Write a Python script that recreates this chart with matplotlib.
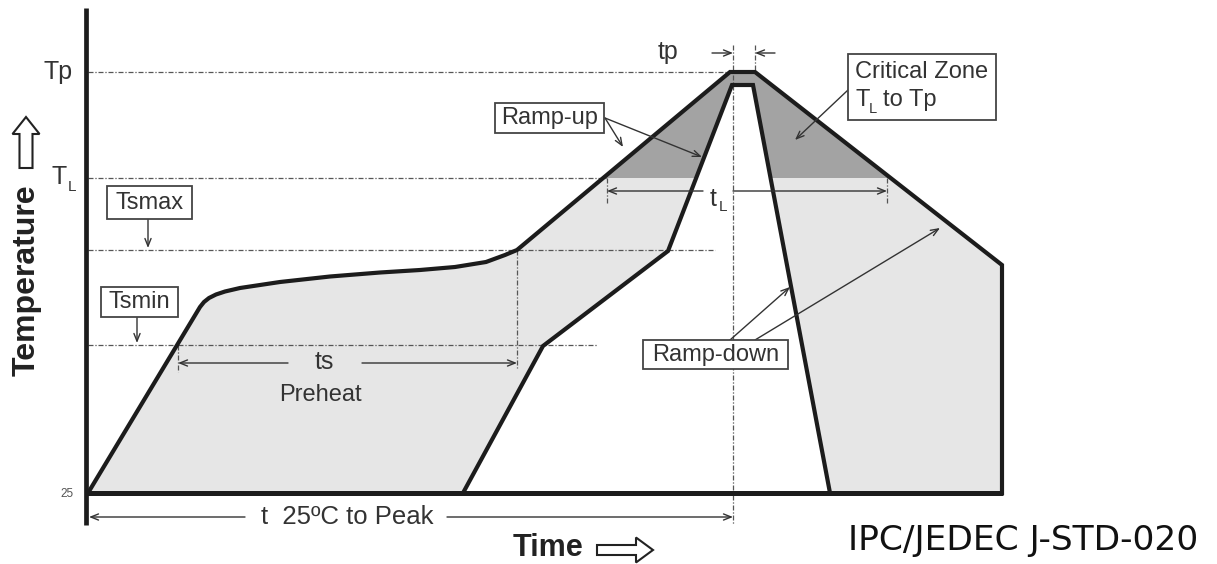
import matplotlib
matplotlib.use('Agg')
import matplotlib.pyplot as plt
from matplotlib.patches import Polygon, Rectangle, FancyArrow

# ---- data (time / temperature in the schematic's own units, baseline = 25 °C) ----
T_P = 421
T_L = 315
TS_MAX = 243
TS_MIN = 148
outer_time = [2, 114, 118, 123, 130, 139, 154, 174, 194, 244, 294, 334, 369, 400, 419, 431,
              644, 669, 916, 916]
outer_temp = [0, 186, 191, 195, 198.5, 201.5, 205, 208, 211, 216.5, 220.5, 223, 226, 231, 238, 243,
              421, 421, 228, 0]
inner_time = [377, 457, 582, 646, 667, 744]
inner_temp = [0, 147, 242, 408, 408, 0]
t_s = [92, 431]
t_l = [521, 801]
t_p = [647, 669]
time_end = 916

FONT = 'Liberation Sans'
TXT = '#333333'
LINE = '#1c1c1c'
DASH = '#555555'

fig = plt.figure(figsize=(12.17, 5.64), dpi=100)
ax = fig.add_axes([0, 0, 1, 1])
ax.set_xlim(-86, 1131)
ax.set_ylim(-71, 493)
ax.axis('off')


def px(x, y):
    return (x - 86, 493 - y)


# ---- fills ----
poly_pts = list(zip(outer_time, outer_temp)) + list(zip(inner_time[::-1], inner_temp[::-1]))
ax.add_patch(Polygon(poly_pts, closed=True, fc='#e6e6e6', ec='none', zorder=1))
dark = Polygon(poly_pts, closed=True, fc='#a3a3a3', ec='none', zorder=2)
ax.add_patch(dark)
clip = Rectangle((-100, T_L), 1300, 300, transform=ax.transData)
dark.set_clip_path(clip)

# ---- dashed reference lines ----
dstyle = dict(color=DASH, lw=0.9, ls=(0, (4, 1.5, 1, 1.5)), zorder=3)
ax.plot([2, t_p[0]], [T_P, T_P], **dstyle)
ax.plot([2, t_l[0]], [T_L, T_L], **dstyle)
ax.plot([2, 629], [TS_MAX, TS_MAX], **dstyle)
ax.plot([2, 512], [TS_MIN, TS_MIN], **dstyle)
ax.plot([t_s[1], t_s[1]], [TS_MAX, 125], **dstyle)
ax.plot([t_s[0], t_s[0]], [TS_MIN, 121], **dstyle)
ax.plot([t_p[0], t_p[0]], [448, -32], **dstyle)
ax.plot([t_p[1], t_p[1]], [448, T_P], **dstyle)
ax.plot([t_l[0], t_l[0]], [T_L, 290], **dstyle)
ax.plot([t_l[1], t_l[1]], [T_L, 290], **dstyle)

# ---- profile lines & axes ----
ax.plot(outer_time, outer_temp, color=LINE, lw=3.0, solid_joinstyle='miter', zorder=5)
ax.plot(inner_time, inner_temp, color=LINE, lw=3.0, solid_joinstyle='miter', zorder=5)
ax.plot([0, time_end + 1], [0, 0], color=LINE, lw=3.6, solid_capstyle='butt', zorder=6)
ax.plot([0, 0], [-32, 485], color=LINE, lw=3.4, solid_capstyle='butt', zorder=6)


def arrow(start, end, lw=1.0):
    ax.annotate('', xy=end, xytext=start,
                arrowprops=dict(arrowstyle='->,head_length=0.55,head_width=0.22',
                                lw=lw, color='#333333', shrinkA=0, shrinkB=0),
                zorder=7)


# span arrows
arrow((202, 130), (t_s[0], 130))
arrow((276, 130), (t_s[1], 130))
arrow((617, 302), (t_l[0], 302))
arrow((647, 302), (t_l[1], 302))
arrow((626, 440), (t_p[0], 440))
arrow((689, 440), (t_p[1], 440))
arrow((159, -24), (3, -24))
arrow((361, -24), (t_p[0], -24))

# ---- labels ----
def txt(x, y, s, size, **kw):
    kw.setdefault('ha', 'center')
    kw.setdefault('va', 'center')
    kw.setdefault('color', TXT)
    ax.text(x, y, s, fontsize=size, family=FONT, zorder=8, **kw)


txt(-28, 421, 'Tp', 18)
txt(-26.5, 316, 'T', 18)
txt(-13.5, 306, 'L', 11)
txt(-12, -1, '25', 8.5, ha='right', color='#555555')
txt(238, 131, 'ts', 18)
txt(234, 98, 'Preheat', 17)
txt(582, 441, 'tp', 18)
txt(627, 294, 't', 18)
txt(637, 286, 'L', 11)
txt(261, -24, 't  25ºC to Peak', 18.5)
txt(-59, 213, 'Temperature', 23, rotation=90, weight='bold', color='#222222')
txt(462, -55, 'Time', 22, weight='bold', color='#222222')
ax.text(762, -57, 'IPC/JEDEC J-STD-020', fontsize=24.8, family='DejaVu Sans',
        ha='left', va='baseline', color='#111111')

# hollow arrows
ax.add_patch(FancyArrow(-60, 325, 0, 51, width=13, head_width=27, head_length=17,
                        length_includes_head=True, fc='white', ec='#222222', lw=1.5, zorder=8))
ax.add_patch(FancyArrow(511, -57, 56, 0, width=10, head_width=25, head_length=17,
                        length_includes_head=True, fc='white', ec='#222222', lw=1.5, zorder=8))


# ---- boxed callouts ----
def box(x0, y0, x1, y1):
    (bx, by) = px(x0, y1)
    ax.add_patch(Rectangle((bx, by), x1 - x0, y1 - y0, fc='white', ec='#444444',
                           lw=1.3, zorder=8))


box(107, 186, 192, 219)
txt(*px(149.5, 203), 'Tsmax', 17)
arrow(px(148, 219), px(148, 248))

box(101, 287, 178, 317)
txt(*px(139.5, 302), 'Tsmin', 17)
arrow(px(137, 317), px(137, 343))

box(495, 103, 604, 133)
txt(*px(549.5, 118), 'Ramp-up', 17)
arrow(px(605, 118), px(623, 147))
arrow(px(605, 118), px(702, 157))

box(848, 54, 996, 120)
txt(*px(855, 72), 'Critical Zone', 17, ha='left')
txt(*px(855, 100), 'T', 17, ha='left')
txt(*px(869, 109), 'L', 10.5, ha='left')
txt(*px(883, 100), 'to Tp', 17, ha='left')
arrow(px(848, 90), px(795, 140))

box(643, 340, 788, 369)
txt(*px(715.5, 354.5), 'Ramp-down', 17)
arrow(px(730, 340), px(790, 287))
arrow(px(755, 340), px(940, 228))

fig.savefig('out.png', dpi=100, facecolor='white')
